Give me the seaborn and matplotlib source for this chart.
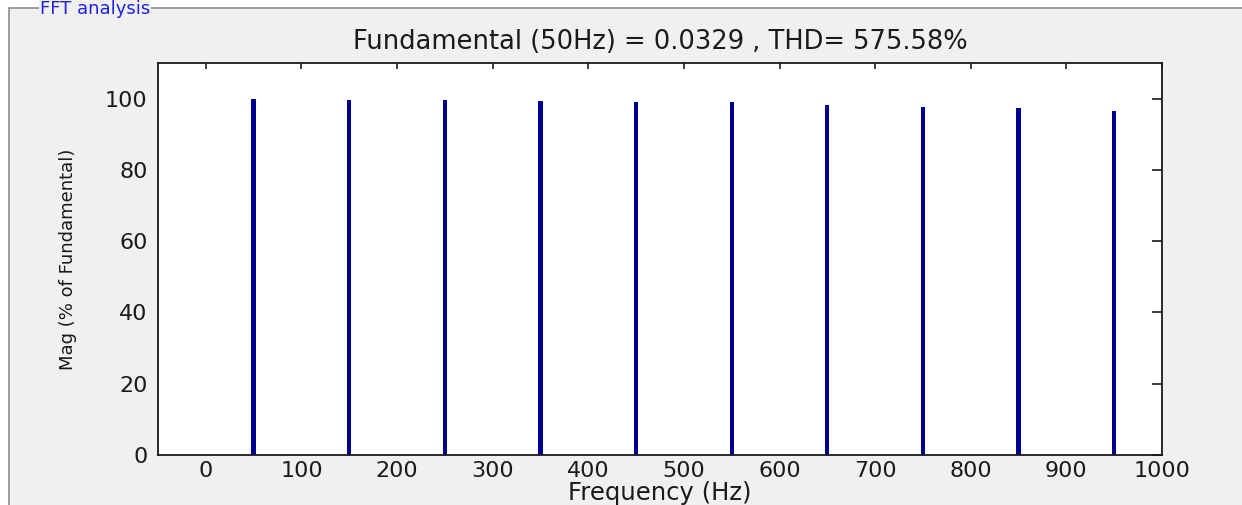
import matplotlib.pyplot as plt
import matplotlib.patches as mpatches
import pandas as pd
import seaborn as sns

# Harmonic spectrum
frecvente = [50, 150, 250, 350, 450, 550, 650, 750, 850, 950]
magnitudini = [100.0, 99.75, 99.75, 99.3, 99.0, 99.0, 98.2, 97.7, 97.3, 96.5]
xticks = list(range(0, 1001, 100))
yticks = list(range(0, 101, 20))

titlu = "Fundamental (50Hz) = 0.0329 , THD= 575.58%"

df = pd.DataFrame({"freq": frecvente, "mag": magnitudini})

sns.set_style("white")
plt.rcParams['font.family'] = ['DejaVu Sans']
fs = 16

W, H = 1242, 505
fig = plt.figure(figsize=(W / 100, H / 100), dpi=100, facecolor='white')

# gray panel with group-box border (top + left visible)
panel = mpatches.Rectangle((9 / W, -0.05), 1.1, (H - 8) / H + 0.05,
                           transform=fig.transFigure, facecolor='#f0f0f0',
                           edgecolor='#8c8c8c', linewidth=1.2, zorder=-10)
fig.patches.append(panel)
fig.text(40 / W, (H - 14) / H, "FFT analysis", color='#2020e0', fontsize=13,
         va='baseline', ha='left', zorder=-5,
         bbox=dict(facecolor='#f0f0f0', edgecolor='none', pad=0.5))

ax = fig.add_axes([158 / W, (H - 455) / H, (1162 - 158) / W, (455 - 63) / H])
ax.set_facecolor('white')

sns.barplot(data=df, x='freq', y='mag', native_scale=True, width=0.045,
            color='#00008f', saturation=1, linewidth=0, ax=ax)

ax.set_xlim(-50, 1000)
ax.set_ylim(0, 110)
ax.set_xticks(xticks)
ax.set_yticks(yticks)
ax.set_xticklabels([str(t) for t in xticks])
ax.set_yticklabels([str(t) for t in yticks])

for s in ax.spines.values():
    s.set_visible(True)
    s.set_color('#1a1a1a')
    s.set_linewidth(1.3)

ax.tick_params(direction='in', top=True, right=True, labelsize=fs,
               colors='#1a1a1a', width=1.2)
ax.tick_params(axis='x', length=4, pad=4)
ax.tick_params(axis='y', length=7.5, pad=7.5)

ax.set_title(titlu, fontsize=18.5, pad=10, color='#1a1a1a')
ax.set_xlabel("Frequency (Hz)", fontsize=17.5, labelpad=0, color='#1a1a1a')
ax.set_ylabel("Mag (% of Fundamental)", fontsize=13,
              family=['DejaVu Sans'], color='#1a1a1a')
ax.yaxis.set_label_coords(-0.081, 0.5)

fig.savefig("out.png", dpi=100, facecolor=fig.get_facecolor())
